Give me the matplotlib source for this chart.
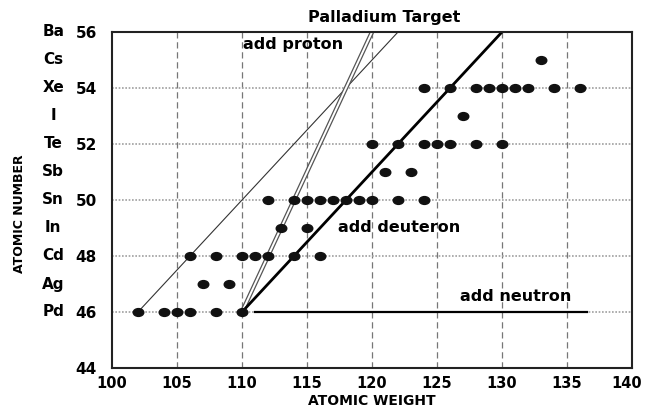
import matplotlib
matplotlib.use("Agg")
import matplotlib.pyplot as plt
from matplotlib.path import Path
from matplotlib.markers import MarkerStyle
import matplotlib.transforms as mtransforms

# ---- data ----
elements = ['Pd', 'Ag', 'Cd', 'In', 'Sn', 'Sb', 'Te', 'I', 'Xe', 'Cs', 'Ba']
z_values = [46, 47, 48, 49, 50, 51, 52, 53, 54, 55, 56]
pd_masses = [102, 104, 105, 106, 108, 110]
ag_masses = [107, 109]
cd_masses = [106, 108, 110, 111, 112, 114, 116]
in_masses = [113, 115]
sn_masses = [112, 114, 115, 116, 117, 118, 119, 120, 122, 124]
sb_masses = [121, 123]
te_masses = [120, 122, 124, 125, 126, 128, 130]
i_masses = [127]
xe_masses = [124, 126, 128, 129, 130, 131, 132, 134, 136]
cs_masses = [133]
isotopes = {46: pd_masses, 47: ag_masses, 48: cd_masses, 49: in_masses,
            50: sn_masses, 51: sb_masses, 52: te_masses, 53: i_masses,
            54: xe_masses, 55: cs_masses}

proton_line_x = [110, 120]
proton_line_z = [46, 56]
deuteron_line_x = [110, 130]
deuteron_line_z = [46, 56]
thin_line_x = [102, 122]
thin_line_z = [46, 56]
neutron_line_x = [111, 136.5]
neutron_line_z = [46, 46]

x_ticks = [100, 105, 110, 115, 120, 125, 130, 135, 140]
y_ticks = [44, 46, 48, 50, 52, 54, 56]

FONT = 'DejaVu Sans'

fig = plt.figure(figsize=(6.46, 4.08), dpi=100)
ax = fig.add_axes([112/646, 40/408, 520/646, 336/408])
ax.set_xlim(100, 140)
ax.set_ylim(44, 56)

# grid
for xv in x_ticks[1:-1]:
    ax.axvline(xv, color='#777777', lw=0.9, ls=(0, (5, 3)), zorder=1)
for yv in y_ticks[1:-1]:
    ax.axhline(yv, color='#a0a0a0', lw=1.2, ls=(0, (1, 1)), zorder=1)

# lines
ax.plot(thin_line_x, thin_line_z, color='#333333', lw=0.8, zorder=2)
ax.plot(proton_line_x, proton_line_z, color='#555555', lw=3.2, zorder=2,
        solid_capstyle='butt')
ax.plot(proton_line_x, proton_line_z, color='white', lw=1.4, zorder=2,
        solid_capstyle='butt')
ax.plot(deuteron_line_x, deuteron_line_z, color='black', lw=2.0, zorder=3)
ax.plot(neutron_line_x, neutron_line_z, color='black', lw=1.6, zorder=3)

# ellipse markers
circ = Path.unit_circle()
ell = circ.transformed(mtransforms.Affine2D().scale(1.35, 1.0))
marker = MarkerStyle(ell)
for z, masses in isotopes.items():
    ax.plot(masses, [z] * len(masses), ls='none', marker=marker,
            markersize=7.6, color='#111111', zorder=4)

# annotations
ax.text(113.9, 55.57, 'add proton', fontsize=11.5, fontweight='bold',
        family=FONT, ha='center', va='center', zorder=5)
ax.text(117.4, 49.0, 'add deuteron', fontsize=11.5, fontweight='bold',
        family=FONT, ha='left', va='center', zorder=5)
ax.text(126.8, 46.54, 'add neutron', fontsize=11.5, fontweight='bold',
        family=FONT, ha='left', va='center', zorder=5)

ax.set_title('Palladium Target', fontsize=11.5, fontweight='bold',
             family=FONT, x=0.523, pad=7)

# ticks
ax.set_xticks(x_ticks)
ax.set_xticklabels([str(v) for v in x_ticks], fontsize=10.5,
                   fontweight='bold', family=FONT)
ax.set_yticks(y_ticks)
ax.set_yticklabels([str(v) for v in y_ticks], fontsize=11,
                   fontweight='bold', family=FONT)
ax.tick_params(axis='x', length=0, pad=6)
ax.tick_params(axis='y', length=0, pad=11)

last = ax.get_xticklabels()[-1]
last.set_transform(last.get_transform() +
                   mtransforms.ScaledTranslation(-4 / 72, 0, fig.dpi_scale_trans))

trans = mtransforms.blended_transform_factory(ax.transAxes, ax.transData)
for el, z in zip(elements, z_values):
    ax.text(-0.113, z, el, transform=trans, fontsize=11, fontweight='bold',
            family=FONT, ha='center', va='center')

ax.set_xlabel('ATOMIC WEIGHT', fontsize=10, fontweight='bold', family=FONT)
ax.xaxis.set_label_coords(0.5, -0.077)
ax.set_ylabel('ATOMIC NUMBER', fontsize=9, fontweight='bold', family=FONT)
ax.yaxis.set_label_coords(-0.165, 0.458)

for s in ax.spines.values():
    s.set_color('#222222')
    s.set_linewidth(1.5)
    s.set_zorder(6)

fig.savefig('out.png', dpi=100)
